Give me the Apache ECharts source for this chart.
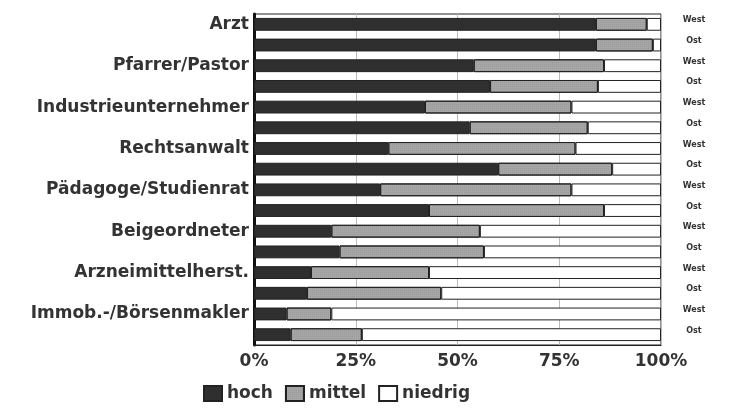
<!DOCTYPE html>
<html><head><meta charset="utf-8">
<script src="https://cdn.jsdelivr.net/npm/echarts@6/dist/echarts.min.js"></script>
<style>html,body{margin:0;padding:0;background:#fff}#c{width:732px;height:410px}</style>
</head><body><div id="c"></div>
<script>
const professions = ['Arzt','Pfarrer/Pastor','Industrieunternehmer','Rechtsanwalt','Pädagoge/Studienrat','Beigeordneter','Arzneimittelherst.','Immob.-/Börsenmakler'];
const regions = ['West','Ost'];
// per-segment values (percent), order: West, Ost per profession
const hoch   = [84, 84, 54, 58, 42, 53, 33, 60, 31, 43, 19, 21, 14, 13, 8, 9];
const mittel = [12.5, 14, 32, 26.5, 36, 29, 46, 28, 47, 43, 36.5, 35.5, 29, 33, 11, 17.5];
const niedrig = hoch.map((h,i)=>100-h-mittel[i]);
const xTicks = [0,25,50,75,100];

const cats = [];
const leftLabels = [];
const rightLabels = [];
professions.forEach(p=>{regions.forEach((r,j)=>{cats.push(p+'|'+r);leftLabels.push(j===0?p:'');rightLabels.push(r);});});

const chart = echarts.init(document.getElementById('c'));
const font = '"DejaVu Sans", Verdana, sans-serif';
const border = {borderColor:'#222', borderWidth:1};
chart.setOption({
  animation:false,
  backgroundColor:'#fff',
  textStyle:{fontFamily:font},
  grid:{left:254,right:71,top:14,bottom:65,show:true,borderColor:'#222',borderWidth:1},
  legend:{left:198,bottom:3,itemWidth:18,itemHeight:15,itemGap:12,icon:'rect',
    textStyle:{fontFamily:font,fontWeight:'bold',fontSize:17,color:'#333'},
    data:['hoch','mittel','niedrig']},
  xAxis:{type:'value',min:xTicks[0],max:xTicks[xTicks.length-1],interval:xTicks[1]-xTicks[0],
    axisLine:{show:true,lineStyle:{color:'#222',width:1}},
    axisTick:{show:false},
    splitLine:{show:true,lineStyle:{color:'#bbb',width:1}},
    axisLabel:{formatter:'{value}%',fontWeight:'bold',fontSize:17,color:'#333',margin:8,fontFamily:font}},
  yAxis:[{type:'category',data:cats,inverse:true,
    axisLine:{show:true,lineStyle:{color:'#111',width:3}},axisTick:{show:false},
    axisLabel:{interval:0,fontWeight:'bold',fontSize:17,color:'#333',margin:5,fontFamily:font,
      formatter:(v,i)=>leftLabels[i]}},
    {type:'category',data:cats,inverse:true,position:'right',
    axisLine:{show:false},axisTick:{show:false},
    axisLabel:{interval:0,fontWeight:'bold',fontSize:8,color:'#333',margin:33,align:'center',verticalAlign:'bottom',fontFamily:font,
      formatter:(v,i)=>rightLabels[i]}}],
  series:[
    {name:'hoch',type:'bar',stack:'s',barWidth:'62%',data:hoch,itemStyle:Object.assign({color:'#2f2f2f'},border)},
    {name:'mittel',type:'bar',stack:'s',data:mittel,itemStyle:Object.assign({color:'#a6a6a6',
      decal:{symbol:'rect',symbolSize:0.6,color:'rgba(60,60,60,0.35)',dashArrayX:[1,1],dashArrayY:[1,1],rotation:0}},border)},
    {name:'niedrig',type:'bar',stack:'s',data:niedrig,itemStyle:Object.assign({color:'#ffffff'},border)}
  ]
});
</script></body></html>
